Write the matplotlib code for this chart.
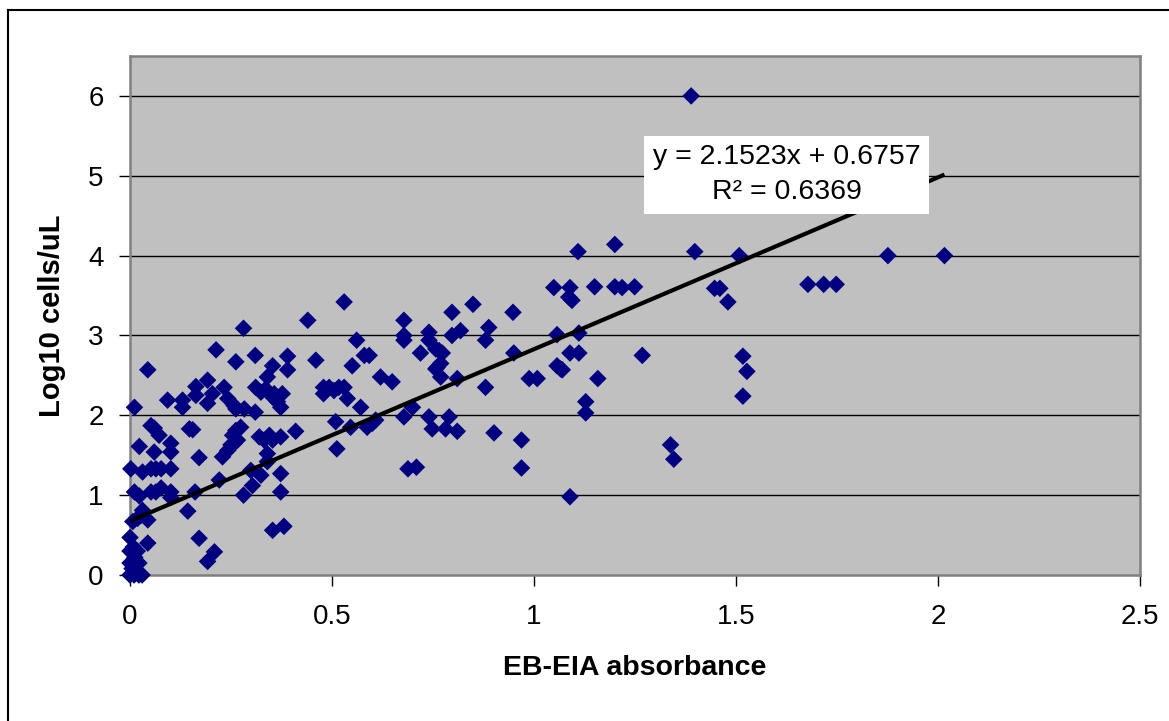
import numpy as np
import matplotlib
matplotlib.use("Agg")
import matplotlib.pyplot as plt
from matplotlib.lines import Line2D

plt.rcParams['font.family'] = ['Liberation Sans', 'DejaVu Sans']

# EB-EIA absorbance vs log10 cells/uL
absorbance = [
    0.000, 0.010, 0.022, 0.030, 0.005, 0.000, 0.022, 0.012, 0.000, 0.018,
    0.008, 0.000, 0.044, 0.007, 0.019, 0.044, 0.031, 0.028, 0.011, 0.023,
    0.002, 0.031, 0.052, 0.064, 0.077, 0.101, 0.052, 0.064, 0.077, 0.101,
    0.101, 0.023, 0.060, 0.101, 0.101, 0.011, 0.044, 0.052, 0.060, 0.072,
    0.093, 0.130, 0.130, 0.143, 0.147, 0.155, 0.161, 0.163, 0.163, 0.171,
    0.171, 0.192, 0.209, 0.192, 0.204, 0.192, 0.213, 0.221, 0.229, 0.242,
    0.250, 0.258, 0.266, 0.254, 0.262, 0.274, 0.233, 0.242, 0.258, 0.262,
    0.262, 0.283, 0.281, 0.281, 0.303, 0.299, 0.324, 0.340, 0.340, 0.320,
    0.332, 0.345, 0.353, 0.373, 0.373, 0.373, 0.353, 0.381, 0.310, 0.310,
    0.311, 0.324, 0.336, 0.340, 0.353, 0.357, 0.353, 0.365, 0.373, 0.377,
    0.390, 0.390, 0.410, 0.440, 0.460, 0.479, 0.479, 0.493, 0.505, 0.517,
    0.530, 0.538, 0.550, 0.530, 0.561, 0.571, 0.509, 0.512, 0.546, 0.580,
    0.592, 0.587, 0.600, 0.608, 0.620, 0.649, 0.678, 0.678, 0.678, 0.678,
    0.740, 0.740, 0.797, 0.849, 0.797, 0.818, 0.888, 0.880, 0.948, 0.719,
    0.757, 0.765, 0.773, 0.760, 0.769, 0.757, 0.769, 0.810, 0.880, 0.950,
    1.057, 1.111, 1.089, 1.111, 1.057, 1.066, 1.070, 0.988, 1.008, 1.158,
    1.268, 1.128, 1.128, 0.699, 0.740, 0.790, 0.748, 0.781, 0.810, 0.901,
    0.969, 0.688, 0.709, 0.969, 1.089, 1.338, 1.346, 1.049, 1.089, 1.150,
    1.200, 1.218, 1.249, 1.086, 1.094, 1.109, 1.200, 1.389, 1.398, 1.508,
    1.447, 1.460, 1.480, 1.678, 1.717, 1.748, 1.876, 2.016, 1.517, 1.527,
    1.517,
]
log_cells = [
    0.00, 0.00, 0.00, 0.00, 0.08, 0.15, 0.15, 0.22, 0.30, 0.30,
    0.35, 0.47, 0.40, 0.67, 0.71, 0.69, 0.81, 0.75, 1.04, 0.99,
    1.33, 1.29, 1.33, 1.33, 1.33, 1.33, 1.04, 1.04, 1.09, 1.04,
    0.97, 1.61, 1.54, 1.65, 1.54, 2.10, 2.57, 1.87, 1.84, 1.75,
    2.19, 2.19, 2.10, 0.80, 1.83, 1.82, 1.04, 2.36, 2.25, 1.47,
    0.46, 0.17, 0.29, 2.44, 2.27, 2.15, 2.82, 1.19, 1.48, 1.56,
    1.63, 1.65, 1.69, 1.75, 1.81, 1.85, 2.35, 2.21, 2.12, 2.08,
    2.67, 2.08, 3.09, 1.00, 1.12, 1.31, 1.25, 1.52, 1.42, 1.73,
    1.69, 1.75, 1.69, 1.73, 1.27, 1.04, 0.56, 0.61, 2.75, 2.04,
    2.35, 2.29, 2.33, 2.48, 2.62, 2.27, 2.23, 2.17, 2.10, 2.27,
    2.74, 2.57, 1.80, 3.19, 2.69, 2.35, 2.27, 2.35, 2.31, 2.35,
    2.35, 2.21, 2.62, 3.42, 2.94, 2.10, 1.92, 1.58, 1.85, 2.75,
    2.75, 1.85, 1.90, 1.94, 2.48, 2.42, 3.19, 3.00, 2.94, 1.98,
    3.04, 2.94, 3.29, 3.39, 3.00, 3.06, 3.10, 2.94, 3.29, 2.78,
    2.83, 2.81, 2.78, 2.60, 2.65, 2.58, 2.48, 2.46, 2.35, 2.78,
    3.01, 3.03, 2.78, 2.78, 2.62, 2.58, 2.57, 2.46, 2.46, 2.46,
    2.75, 2.17, 2.03, 2.10, 1.98, 1.98, 1.83, 1.83, 1.80, 1.78,
    1.69, 1.33, 1.35, 1.34, 0.98, 1.63, 1.45, 3.60, 3.60, 3.61,
    3.61, 3.60, 3.61, 3.48, 3.44, 4.05, 4.14, 6.00, 4.05, 4.00,
    3.59, 3.59, 3.42, 3.64, 3.64, 3.64, 4.00, 4.00, 2.74, 2.55,
    2.24,
]

# Excel linear trendline
slope = 2.1523
intercept = 0.6757
r_squared = 0.6369

x_ticks = [0, 0.5, 1, 1.5, 2, 2.5]
x_tick_labels = ['0', '0.5', '1', '1.5', '2', '2.5']
y_ticks = [0, 1, 2, 3, 4, 5, 6]

fig = plt.figure(figsize=(11.69, 7.21), dpi=100)
ax = fig.add_axes([130 / 1169, 1 - 575 / 721, 1010 / 1169, 519 / 721])
ax.set_facecolor('#c0c0c0')

# outer chart frame (top and left visible)
fig.add_artist(Line2D([8 / 1169, 8 / 1169], [0, 1 - 10 / 721], color='black', lw=1.5))
fig.add_artist(Line2D([8 / 1169, 1], [1 - 10 / 721, 1 - 10 / 721], color='black', lw=1.5))

for yv in y_ticks[1:]:
    ax.axhline(yv, color='black', lw=1.0, zorder=1)

ax.scatter(absorbance, log_cells, marker='D', s=80, color='#000080',
           edgecolors='none', zorder=3, clip_on=False)

xs = np.array([0, max(absorbance)])
ax.plot(xs, slope * xs + intercept, color='black', lw=3.0, zorder=4,
        solid_capstyle='butt')

ax.text(1.625, 5.01, f'y = {slope}x + {intercept}\nR² = {r_squared}',
        ha='center', va='center', fontsize=20.5, linespacing=1.45, zorder=5,
        bbox=dict(facecolor='white', edgecolor='none', pad=6))

ax.set_xlim(0, 2.5)
ax.set_ylim(0, 6.5)
ax.set_xticks(x_ticks)
ax.set_xticklabels(x_tick_labels)
ax.set_yticks(y_ticks)
ax.tick_params(axis='both', labelsize=20, length=8, width=1, color='black')
ax.tick_params(axis='x', pad=13)
ax.tick_params(axis='y', pad=11)

for side in ['top', 'right', 'left', 'bottom']:
    ax.spines[side].set_color('#808080')
    ax.spines[side].set_linewidth(1.8)

ax.set_xlabel('EB-EIA absorbance', fontsize=20.5, fontweight='bold', labelpad=18)
ax.set_ylabel('Log10 cells/uL', fontsize=21, fontweight='bold', labelpad=16)

fig.savefig('out.png', dpi=100)
